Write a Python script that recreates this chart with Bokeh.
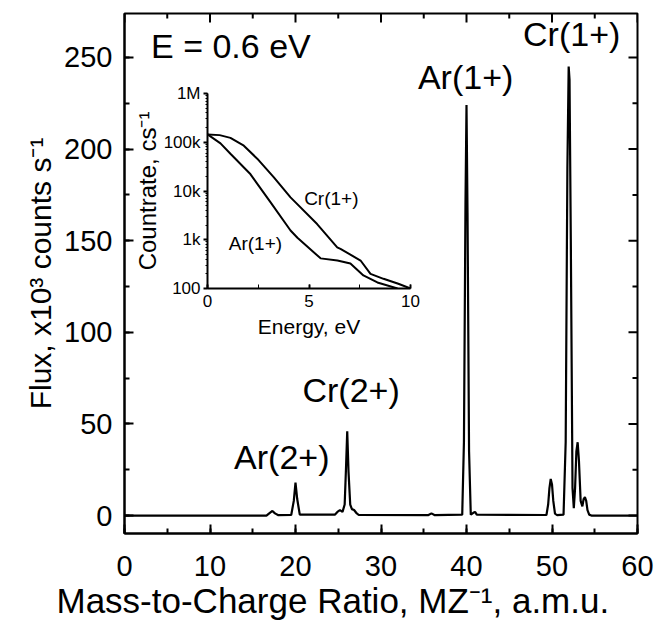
import math
from bokeh.plotting import figure
from bokeh.models import (SingleIntervalTicker, LogTicker, Range1d, Title,
                          CustomJSTickFormatter)
from bokeh.embed import file_html
from bokeh.resources import INLINE
from bokeh.core.properties import value

FONT = "Liberation Sans"

# ---------------- data: main mass spectrum ----------------
mz = [0, 16.6, 17.0, 17.3, 17.6, 18.0, 19.5, 19.8, 20.0, 20.2, 20.5,
      24.6, 24.9, 25.2, 25.5, 25.75, 25.9, 26.05, 26.2, 26.4, 26.6, 26.85, 27.1, 27.4,
      35.5, 35.9, 36.3,
      39.5, 39.7, 39.88, 40.0, 40.12, 40.3, 40.5, 40.8, 41.0, 41.2,
      49.35, 49.55, 49.7, 49.85, 50.0, 50.15, 50.35, 50.6,
      51.35, 51.6, 51.8, 51.95, 52.05, 52.2, 52.4, 52.55, 52.7, 52.85, 53.0, 53.15,
      53.35, 53.55, 53.7, 53.85, 54.0, 54.15, 54.35, 54.6, 60]
flux = [0, 0, 1.5, 2.5, 1.2, 0.2, 0.3, 8, 18, 9, 0.5,
        0.5, 2.0, 3.0, 2.0, 6, 25, 46, 24, 6, 3.5, 3.0, 1.5, 0.3,
        0.2, 1.2, 0.2,
        0.5, 40, 170, 224, 165, 35, 0.5, 1.5, 2.0, 0.5,
        0.3, 6, 15, 20, 17, 8, 1.0, 0.2,
        0.5, 40, 190, 245, 238, 150, 15, 4, 15, 35, 40, 30,
        8, 5, 9, 10, 8, 3, 0.5, 0, 0]

peak_labels = ["E = 0.6 eV", "Ar(1+)", "Cr(1+)", "Cr(2+)", "Ar(2+)"]

# tick positions (major / minor) of the main axes
x_major = [0, 10, 20, 30, 40, 50, 60]
x_minor = [5, 15, 25, 35, 45, 55]
y_major = [0, 50, 100, 150, 200, 250]
y_minor = [25, 75, 125, 175, 225]

# ---------------- data: inset energy distributions ----------------
cr_energy = [0, 0.6, 1.13, 1.79, 2.45, 3.27, 4.09, 5.4, 6.39, 6.55, 7.54, 8.03, 8.67, 9.4, 10.0]
cr_rate = [145000, 140000, 123000, 85000, 46000, 19000, 7400, 2100, 700, 650, 375, 200, 158, 125, 100]
ar_energy = [0, 0.64, 1.13, 2.12, 3.1, 4.09, 4.43, 5.57, 6.4, 7.04, 7.68, 8.37, 9.36]
ar_rate = [145000, 95000, 58000, 22000, 5900, 1550, 1100, 415, 375, 325, 185, 133, 100]
inset_labels = ["Cr(1+)", "Ar(1+)"]

# ---------------- main figure ----------------
X0, X1 = 0, 60
Y0, Y1 = -9.8, 274
p = figure(width=655, height=629, output_backend="svg", toolbar_location=None,
           x_range=Range1d(X0, X1), y_range=Range1d(Y0, Y1),
           min_border_left=124, min_border_right=18, min_border_top=13,
           min_border_bottom=96, background_fill_color="white",
           border_fill_color="white", outline_line_color="black",
           outline_line_width=2)
p.xgrid.visible = False
p.ygrid.visible = False

p.line(mz, flux, line_color="black", line_width=2.2)

lab_x = [3.1, 39.9, 52.3, 26.5, 18.4]
lab_y = [256.5, 239.6, 262.6, 68.6, 32.2]
lab_align = ["left", "center", "center", "center", "center"]
p.text(x=lab_x, y=lab_y, text=peak_labels, text_align=lab_align, text_baseline="middle",
       text_font=value(FONT), text_font_size="34px", text_color="black")

# mirrored inward ticks on the top and right edges
p.ray(x=x_major, y=[Y1] * len(x_major), length=9, length_units="screen",
      angle=-math.pi / 2, line_color="black", line_width=2)
p.ray(x=x_minor, y=[Y1] * len(x_minor), length=5, length_units="screen",
      angle=-math.pi / 2, line_color="black", line_width=2)
p.ray(x=[X1] * len(y_major), y=y_major, length=9, length_units="screen",
      angle=math.pi, line_color="black", line_width=2)
p.ray(x=[X1] * len(y_minor), y=y_minor, length=5, length_units="screen",
      angle=math.pi, line_color="black", line_width=2)

p.xaxis.ticker = SingleIntervalTicker(interval=10, num_minor_ticks=2)
p.yaxis.ticker = SingleIntervalTicker(interval=50, num_minor_ticks=2)
for ax in p.xaxis + p.yaxis:
    ax.axis_line_width = 2
    ax.axis_line_color = "black"
    ax.major_tick_in = 9
    ax.major_tick_out = 0
    ax.minor_tick_in = 5
    ax.minor_tick_out = 0
    ax.major_tick_line_width = 2
    ax.minor_tick_line_width = 2
    ax.major_label_text_font = FONT
    ax.major_label_text_font_size = "29px"
    ax.major_label_text_color = "black"
    ax.axis_label_text_font = FONT
    ax.axis_label_text_font_style = "normal"
    ax.axis_label_text_color = "black"
p.yaxis.axis_label = "Flux, x10\u00b3 counts s\u207b\u00b9"
p.yaxis.axis_label_text_font_size = "30px"
p.yaxis.major_label_standoff = 12
p.yaxis.axis_label_standoff = 4
p.xaxis.major_label_standoff = 22

xlab = Title(text="Mass-to-Charge Ratio, MZ\u207b\u00b9, a.m.u.", align="left", offset=-68,
             text_font=FONT, text_font_size="35px", text_font_style="normal",
             text_color="black", standoff=0)
p.add_layout(xlab, "below")

# ---------------- inset figure ----------------
ins = figure(width=294, height=262, output_backend="svg", toolbar_location=None,
             x_range=Range1d(0, 10), y_range=Range1d(100, 1e6), y_axis_type="log",
             min_border_left=79, min_border_right=12, min_border_top=10,
             min_border_bottom=57, background_fill_color=None,
             border_fill_color=None, outline_line_color=None)
ins.styles = {"position": "absolute", "left": "128px", "top": "83px"}
ins.xgrid.visible = False
ins.ygrid.visible = False

ins.line(cr_energy, cr_rate, line_color="black", line_width=2)
ins.line(ar_energy, ar_rate, line_color="black", line_width=2)
ins.text(x=[6.1, 2.36], y=[7100, 840], text=inset_labels, text_align="center",
         text_baseline="middle", text_font=value(FONT), text_font_size="19px",
         text_color="black")

ins.xaxis.ticker = SingleIntervalTicker(interval=5, num_minor_ticks=2)
ins.yaxis.ticker = LogTicker(desired_num_ticks=5, num_minor_ticks=10)
ins.yaxis.formatter = CustomJSTickFormatter(code="""
const m = {2: "100", 3: "1k", 4: "10k", 5: "100k", 6: "1M"};
const k = Math.round(Math.log10(tick));
return (k in m) ? m[k] : "";
""")
for ax in ins.xaxis + ins.yaxis:
    ax.axis_line_width = 2
    ax.axis_line_color = "black"
    ax.major_tick_line_width = 2
    ax.minor_tick_line_width = 1
    ax.major_label_text_font = FONT
    ax.major_label_text_font_size = "17px"
    ax.major_label_text_color = "black"
    ax.axis_label_text_font = FONT
    ax.axis_label_text_font_style = "normal"
    ax.axis_label_text_color = "black"
ins.xaxis.major_tick_in = 4
ins.xaxis.major_tick_out = 0
ins.xaxis.minor_tick_in = 4
ins.xaxis.minor_tick_out = 0
ins.yaxis.major_tick_in = 0
ins.yaxis.major_tick_out = 4
ins.yaxis.minor_tick_in = 0
ins.yaxis.minor_tick_out = 2
ins.xaxis.major_label_standoff = 6
ins.yaxis.major_label_standoff = 3
ins.xaxis.axis_label = "Energy, eV"
ins.yaxis.axis_label = "Countrate, cs\u207b\u00b9"
ins.xaxis.axis_label_text_font_size = "21px"
ins.yaxis.axis_label_text_font_size = "24px"
ins.xaxis.axis_label_standoff = 5
ins.yaxis.axis_label_standoff = 0

open("out.html", "w").write(file_html([p, ins], INLINE))
